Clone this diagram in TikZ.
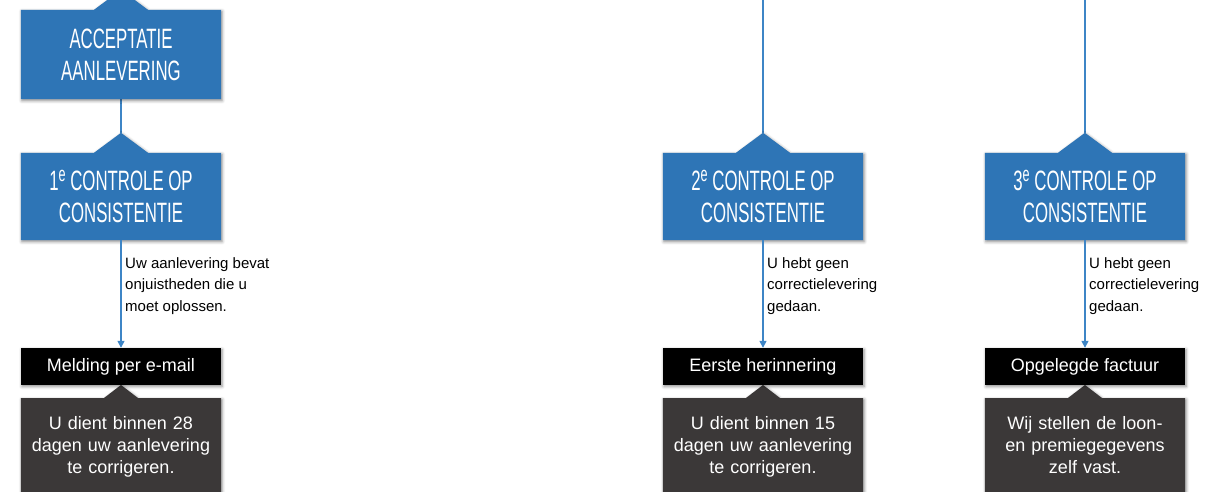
\documentclass[tikz,border=0pt]{standalone}
\usepackage{fontspec}
\setmainfont{Liberation Sans}
\usetikzlibrary{arrows.meta,backgrounds,shadows.blur,calc}
\definecolor{boxblue}{HTML}{2E75B6}
\definecolor{lineblue}{HTML}{3D85C6}
\definecolor{darkbox}{HTML}{3B3838}
\newcommand{\hdr}[1]{\scalebox{0.6}[1]{#1}}
\newcommand{\supE}{\raisebox{9pt}{\fontsize{21}{21}\selectfont e}}
\tikzset{
  shade/.style={blur shadow={shadow xshift=1pt,shadow yshift=-1.5pt,shadow blur radius=3pt,shadow opacity=45}},
  headtext/.style={text=white, align=center, font=\fontsize{28}{32}\selectfont, minimum width=200pt, inner sep=0pt},
  bluefill/.style={fill=boxblue, shade},
  blackbox/.style={fill=black, text=white, font=\fontsize{18}{22}\selectfont, minimum width=200pt, minimum height=37pt, inner sep=0pt, shade},
  darktext/.style={text=white, align=center, font=\fontsize{18}{22}\selectfont, text width=200pt, inner xsep=0pt, inner ysep=18pt, anchor=north},
  darkfill/.style={fill=darkbox, shade},
  conn/.style={draw=lineblue, line width=1.5pt},
  arrowline/.style={conn, -{Triangle[width=7pt,length=7pt]}},
  lbl/.style={align=left, font=\fontsize{15}{21.5}\selectfont, inner sep=0pt, anchor=north west, text=black}
}
\newcommand{\bluetab}[1]{%
  \path[bluefill] (#1.south west) -- (#1.north west) -- ([xshift=-27pt]#1.north) -- ([yshift=20pt]#1.north) -- ([xshift=27pt]#1.north) -- (#1.north east) -- (#1.south east) -- cycle;}
\newcommand{\darktab}[1]{%
  \path[darkfill] (#1.west |- 0,520) -- (#1.north west) -- ([xshift=-17pt]#1.north) -- ([yshift=13pt]#1.north) -- ([xshift=17pt]#1.north) -- (#1.north east) -- (#1.east |- 0,520) -- cycle;}
\begin{document}
\begin{tikzpicture}[x=1pt,y=-1pt]
\useasboundingbox (0,0) rectangle (1208,492);
\clip (0,0) rectangle (1208,492);

% column 1
\node[headtext, minimum height=89pt] (acc) at (121,54.5) {\hdr{ACCEPTATIE}\\\hdr{AANLEVERING}};
\node[headtext, minimum height=87pt] (c1) at (121,196.5) {\hdr{1\supE\ CONTROLE OP}\\\hdr{CONSISTENTIE}};
\node[blackbox] (m1) at (121,366.5) {Melding per e-mail};
\node[darktext] (d1) at (121,398) {U dient binnen 28\\dagen uw aanlevering\\te corrigeren.};

% column 2
\node[headtext, minimum height=87pt] (c2) at (763,196.5) {\hdr{2\supE\ CONTROLE OP}\\\hdr{CONSISTENTIE}};
\node[blackbox] (m2) at (763,366.5) {Eerste herinnering};
\node[darktext] (d2) at (763,398) {U dient binnen 15\\dagen uw aanlevering\\te corrigeren.};

% column 3
\node[headtext, minimum height=87pt] (c3) at (1085,196.5) {\hdr{3\supE\ CONTROLE OP}\\\hdr{CONSISTENTIE}};
\node[blackbox] (m3) at (1085,366.5) {Opgelegde factuur};
\node[darktext] (d3) at (1085,398) {Wij stellen de loon-\\en premiegegevens\\zelf vast.};

\coordinate (p1) at ([yshift=20pt]c1.north);
\coordinate (p2) at ([yshift=20pt]c2.north);
\coordinate (p3) at ([yshift=20pt]c3.north);
\coordinate (t2) at (763,-5);
\coordinate (t3) at (1085,-5);

\begin{pgfonlayer}{background}
  \draw[conn] (acc.south) -- (p1);
  \draw[conn] (t2) -- (p2);
  \draw[conn] (t3) -- (p3);
  \bluetab{acc}
  \bluetab{c1}
  \bluetab{c2}
  \bluetab{c3}
  \darktab{d1}
  \darktab{d2}
  \darktab{d3}
\end{pgfonlayer}

\draw[arrowline] (c1.south) -- (m1.north);
\draw[arrowline] (c2.south) -- (m2.north);
\draw[arrowline] (c3.south) -- (m3.north);

\node[lbl] (l1) at (125,257) {Uw aanlevering bevat\\onjuistheden die u\\moet oplossen.};
\node[lbl] (l2) at (767,257) {U hebt geen\\correctielevering\\gedaan.};
\node[lbl] (l3) at (1089,257) {U hebt geen\\correctielevering\\gedaan.};
\end{tikzpicture}
\end{document}
